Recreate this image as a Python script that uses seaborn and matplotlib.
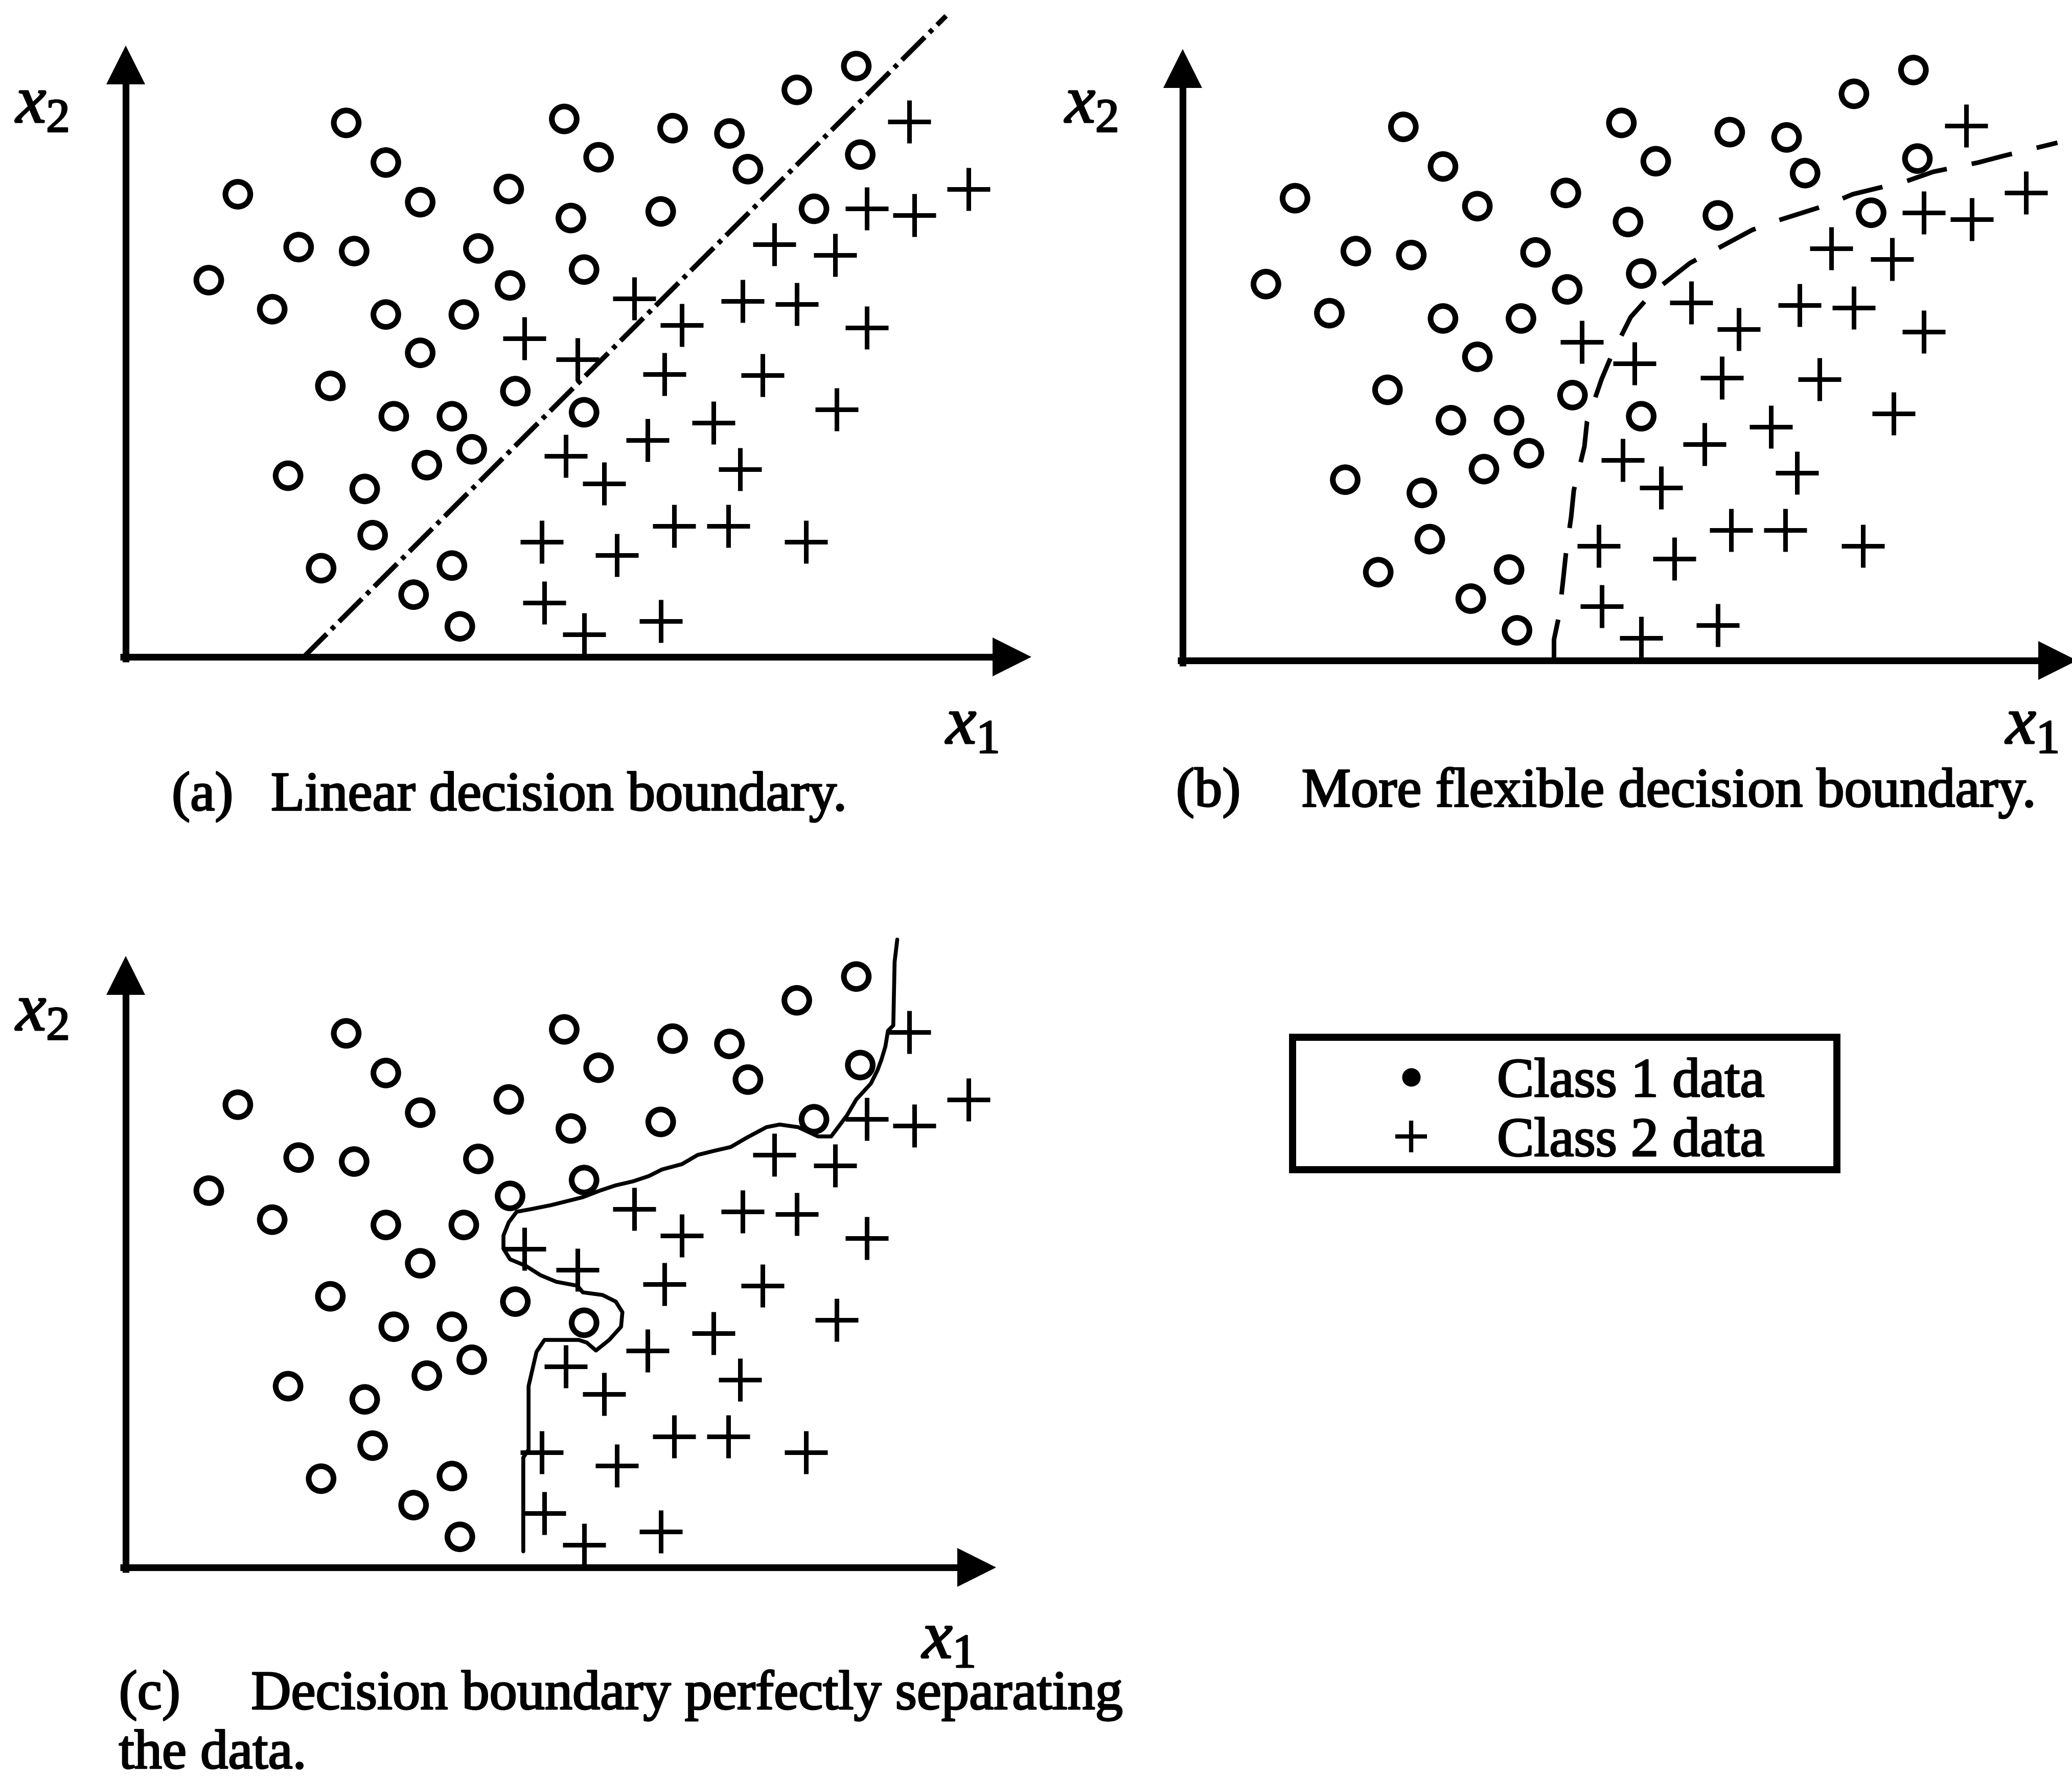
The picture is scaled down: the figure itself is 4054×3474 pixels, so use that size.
import matplotlib
matplotlib.use("Agg")
import matplotlib.pyplot as plt
import matplotlib.patheffects as pe
import seaborn as sns
import pandas as pd
from matplotlib.lines import Line2D
from matplotlib.patches import Rectangle

# ---------------- data (x1, x2 in arbitrary units) ----------------
class1_x1 = [167, 197, 223, 85, 131, 173, 63, 111, 197, 223, 256, 290, 267, 291, 337, 332, 358, 414, 457, 471,
             405, 347, 155, 203, 247, 262, 228, 295, 347, 123, 181, 187, 148, 218, 247, 253, 508, 553, 556, 521]
class1_x2 = [404, 374, 344, 350, 310, 307, 285, 263, 259, 230, 259, 354, 309, 281, 332, 407, 378, 400, 396, 369,
             337, 293, 205, 182, 182, 157, 145, 201, 185, 137, 127, 92, 67, 47, 69, 23, 429, 447, 380, 339]
class2_x1 = [593, 638, 561, 597, 491, 537, 385, 421, 467, 508, 561, 302, 342, 408, 482, 538, 445, 395, 333, 362,
             465, 315, 372, 415, 456, 515, 317, 347, 405]
class2_x2 = [405, 354, 339, 334, 312, 304, 271, 251, 269, 267, 249, 241, 225, 214, 213, 187, 177, 164, 152, 131,
             142, 87, 77, 99, 99, 87, 41, 17, 27]

# (a) linear boundary
linear_x1 = [135, 621]
linear_x2 = [0, 485]
# (b) more flexible boundary
flex_x1 = [281, 281, 285, 288, 290, 294, 296, 304, 306, 317, 325, 339, 356, 384, 403, 431, 450, 488, 507, 548,
           568, 602, 621, 662]
flex_x2 = [0, 16, 35, 62, 81, 109, 129, 162, 181, 213, 232, 260, 279, 301, 311, 326, 333, 345, 353, 363,
           370, 377, 382, 392]
# (c) boundary perfectly separating the data
perfect_x1 = [584, 582, 581, 577, 575, 572, 569, 564, 553, 546, 534, 524, 509, 495, 485, 470, 458, 445, 433, 421,
              406, 396, 384, 371, 359, 346, 334, 322, 307, 296, 290, 286, 286, 291, 303, 314, 326, 342, 346, 361,
              371, 376, 375, 366, 356, 349, 343, 329, 317, 311, 308, 305, 305, 301, 301]
perfect_x2 = [475, 458, 410, 406, 394, 384, 376, 366, 354, 342, 326, 326, 333, 335, 333, 325, 318, 315, 312, 305,
              301, 296, 292, 289, 285, 280, 277, 274, 271, 269, 261, 251, 241, 233, 228, 221, 216, 213, 208, 206,
              201, 193, 182, 172, 164, 170, 172, 172, 172, 163, 150, 137, 89, 83, 12]

panel_tags = ["(a)", "(b)", "(c)"]
panel_captions = ["Linear decision boundary.", "More flexible decision boundary.",
                  "Decision boundary perfectly separating"]
caption_tail = "the data."
legend_labels = ["Class 1 data", "Class 2 data"]

df1 = pd.DataFrame({"x1": class1_x1, "x2": class1_x2})
df2 = pd.DataFrame({"x1": class2_x1, "x2": class2_x2})

# ---------------- style ----------------
sns.set_theme(style="white")
plt.rcParams["font.family"] = ["Liberation Serif", "DejaVu Serif"]
plt.rcParams["text.color"] = "black"
plt.rcParams["mathtext.fontset"] = "custom"
plt.rcParams["mathtext.rm"] = "Liberation Serif"
plt.rcParams["mathtext.it"] = "Liberation Serif:italic"

W_U, H_U = 1568.0, 1344.0   # layout units (1 unit = 2.5855 px)
fig = plt.figure(figsize=(40.54, 34.74), dpi=100)
fig.patch.set_facecolor("white")
HEAVY = [pe.withStroke(linewidth=2.2, foreground="black")]


def fx(u):
    return u / W_U


def fy(v):
    return 1 - v / H_U


AX_LW = 9.5
ARROW_MS = 55


def make_panel(ox, oy, xarrow, yarrow):
    ax = fig.add_axes([0, 0, 1, 1])
    ax.set_xlim(-ox, W_U - ox)
    ax.set_ylim(oy - H_U, oy)
    ax.set_axis_off()
    ax.patch.set_alpha(0)
    # axis lines with arrow heads
    ax.plot([-4, xarrow - 12], [0, 0], color="black", lw=AX_LW, solid_capstyle="butt", clip_on=False)
    ax.plot([0, 0], [-4, yarrow - 12], color="black", lw=AX_LW, solid_capstyle="butt", clip_on=False)
    ax.plot([xarrow], [0], marker=">", ms=ARROW_MS, color="black", mew=0, clip_on=False)
    ax.plot([0], [yarrow], marker="^", ms=ARROW_MS, color="black", mew=0, clip_on=False)
    return ax


def scatter(ax):
    sns.scatterplot(data=df1, x="x1", y="x2", ax=ax, marker="o", s=35 ** 2, facecolor="none",
                    edgecolor="black", linewidth=8, clip_on=False, legend=False)
    sns.scatterplot(data=df2, x="x1", y="x2", ax=ax, marker="+", s=60 ** 2, color="black",
                    linewidth=6.5, clip_on=False, legend=False)
    ax.set_xlabel("")
    ax.set_ylabel("")


# panel (a)
ax_a = make_panel(95, 497, 671, 448)
scatter(ax_a)
sns.lineplot(x=linear_x1, y=linear_x2, ax=ax_a, color="black", lw=7, sort=False,
             linestyle=(0, (6.5, 1.3, 0.9, 1.3)), estimator=None)

# panel (b)
ax_b = make_panel(895, 500, 662, 448)
scatter(ax_b)
sns.lineplot(x=flex_x1, y=flex_x2, ax=ax_b, color="black", lw=6.5, sort=False,
             linestyle=(0, (9, 5.5)), estimator=None)

# panel (c)
ax_c = make_panel(95, 1186, 644, 448)
scatter(ax_c)
sns.lineplot(x=perfect_x1, y=perfect_x2, ax=ax_c, color="black", lw=5.5, sort=False, estimator=None)

for a in (ax_a, ax_b, ax_c):
    a.set_xlabel("")
    a.set_ylabel("")

# axis labels
LBL = 96
for (x, y) in [(12, 80), (806, 80), (12, 767)]:
    fig.text(fx(x), fy(y), r"$x_2$", fontsize=LBL, ha="left", va="center", path_effects=HEAVY)
for (x, y) in [(736, 550), (1538, 550), (718, 1242)]:
    fig.text(fx(x), fy(y), r"$x_1$", fontsize=LBL, ha="center", va="center", path_effects=HEAVY)

# captions
CAP = 78
caps = [(130, 603, panel_tags[0]), (205, 603, panel_captions[0]),
        (890, 600, panel_tags[1]), (985, 600, panel_captions[1]),
        (90, 1283, panel_tags[2]), (190, 1283, panel_captions[2]),
        (90, 1328, caption_tail)]
for (x, y, s) in caps:
    fig.text(fx(x), fy(y), s, fontsize=CAP, ha="left", va="center", path_effects=HEAVY)

# legend
fig.patches.append(Rectangle((fx(978), fy(885)), fx(412), 100 / H_U, transform=fig.transFigure,
                             fill=False, edgecolor="black", lw=10))
handles = [Line2D([], [], ls="none", marker="o", ms=25, color="black"),
           Line2D([], [], ls="none", marker="+", ms=44, mew=6, color="black")]
leg = fig.legend(handles, legend_labels, loc="center left", bbox_to_anchor=(fx(1047), fy(842)),
                 frameon=False, fontsize=CAP, handlelength=1.0, handletextpad=1.05, borderpad=0,
                 labelspacing=0.16, borderaxespad=0)
for t in leg.get_texts():
    t.set_path_effects(HEAVY)

fig.savefig("out.png", dpi=100, facecolor="white")
